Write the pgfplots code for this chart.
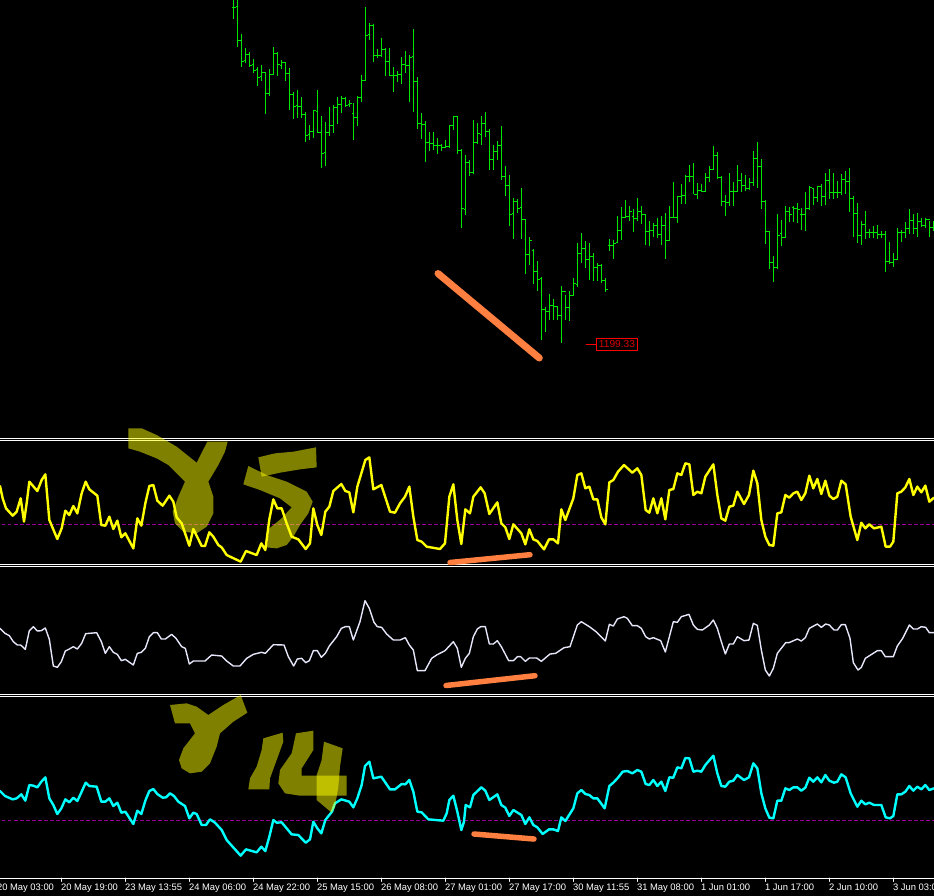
\documentclass[border=0pt]{standalone}
\usepackage{fontspec}
\setmainfont{Liberation Sans}
\usepackage{pgfplots}
\usepackage{pgfplotstable}
\pgfplotsset{compat=1.18}

\definecolor{pricegreen}{HTML}{00E600}
\definecolor{zero}{HTML}{990099}
\definecolor{pen}{HTML}{FF7F40}
\definecolor{rsiy}{HTML}{FFFF00}
\definecolor{rsiw}{HTML}{E6E6FA}
\definecolor{rsic}{HTML}{00FFFF}

% values are read from 3x crops, so px = offset + value/3
\pgfplotsset{crop/.style 2 args={x filter/.expression={#1+x/3}, y filter/.expression={#2+y/3}}}

\pgfplotstableread{
x hi lo o c
40 0 56 22 22
52 -3 140 18 121
64 102 200 121 184
76 145 188 181 164
88 156 200 164 196
100 178 220 193 211
112 201 257 208 232
124 195 243 229 216
136 216 341 216 280
148 207 287 280 223
160 141 223 223 160
172 156 227 160 193
184 180 206 195 187
196 186 242 187 220
208 204 330 220 283
220 276 356 282 319
232 270 353 317 319
244 291 353 319 343
256 337 425 343 406
268 375 419 403 394
280 330 413 394 331
292 270 400 333 398
304 348 503 398 460
316 366 497 458 396
328 321 407 396 376
340 315 399 376 323
352 291 371 323 313
364 288 338 313 296
376 292 321 295 315
388 300 322 314 310
400 309 419 340 352
412 288 377 352 292
424 225 305 292 241
436 21 241 241 105
448 69 119 103 75
460 72 185 75 166
472 147 174 166 167
484 113 170 167 149
496 144 228 148 184
508 144 228 184 226
520 201 275 226 226
532 213 246 226 222
544 171 251 222 193
556 153 219 193 197
568 165 305 197 171
580 87 335 169 244
592 231 386 244 371
604 339 416 371 373
616 363 485 373 428
628 396 453 428 431
640 396 449 431 436
652 414 461 436 437
664 432 453 436 442
676 420 443 442 438
688 375 443 438 377
700 349 389 377 350
712 348 461 350 451
724 447 683 451 626
736 465 644 628 487
748 480 527 487 518
760 360 521 516 427
772 369 431 427 400
784 348 434 402 370
796 336 410 370 393
808 387 509 393 478
820 434 509 478 454
832 423 479 454 436
844 378 539 436 529
856 498 587 529 555
868 525 677 555 643
880 594 716 641 604
892 597 638 604 625
}\barsleft

\pgfplotstableread{
x hi lo o c
64 175 327 232 267
76 268 431 267 372
88 322 404 372 332
100 357 461 360 424
112 393 482 424 449
124 441 629 445 539
136 530 605 539 545
148 492 570 545 526
160 507 569 527 529
172 528 569 529 556
184 468 638 556 485
196 495 570 485 531
208 484 572 531 495
220 445 497 495 460
232 339 472 462 370
244 309 400 370 354
256 333 414 354 389
268 339 450 389 380
280 369 453 380 412
292 399 453 412 407
304 402 460 407 452
316 444 486 452 478
328 327 362 347 347
340 330 387 347 339
352 258 337 337 302
364 231 329 302 262
376 210 260 262 258
388 228 272 258 245
400 237 306 258 264
412 204 274 264 243
424 229 283 243 253
436 252 345 253 304
448 274 347 304 301
460 280 322 301 286
472 265 324 286 313
484 259 344 313 286
496 248 386 286 332
508 228 333 332 262
520 156 264 262 262
532 199 278 262 199
544 163 223 199 197
556 134 223 197 139
568 106 157 139 139
580 99 192 139 193
592 160 207 193 181
604 162 185 181 183
616 129 185 183 141
628 109 155 141 118
640 48 120 118 77
652 67 147 77 143
664 137 228 143 213
676 195 257 213 216
688 129 228 216 185
700 157 228 185 184
712 106 184 184 150
724 130 186 150 167
736 136 184 167 176
748 144 181 176 157
760 64 169 157 85
772 37 174 85 110
784 88 236 110 213
796 209 342 213 305
808 304 417 305 397
820 378 455 397 412
832 252 417 412 315
844 270 348 311 321
856 228 322 321 243
868 232 276 243 252
880 228 276 231 234
892 218 280 236 237
904 234 300 252 252
916 186 302 252 234
928 169 240 234 173
940 175 226 174 201
952 167 216 201 170
964 162 228 170 200
976 129 225 200 152
988 117 206 152 186
1000 129 206 186 187
1012 153 205 186 186
1024 132 195 186 147
1036 122 193 147 153
1048 113 245 153 204
1060 198 320 204 249
1072 220 340 249 316
1084 272 344 316 282
1096 243 326 282 308
1108 296 325 308 308
1120 287 325 308 306
1132 285 327 308 313
1144 303 323 313 313
1156 304 425 313 393
1168 337 403 393 396
1180 369 410 396 388
1192 295 388 388 307
1204 300 335 307 308
1216 277 325 308 296
1228 237 311 296 272
1240 253 312 272 296
1252 248 321 296 273
1264 265 291 273 287
1276 263 295 287 267
1288 272 320 267 293
1300 273 304 293 293
}\barsright

% each row gives one bar: high-low stem, open tick left, close tick right
\newcommand\pricebars[3]{%
  \gdef\barpath{}%
  \pgfplotstablegetrowsof{#1}%
  \pgfmathtruncatemacro\lastrow{\pgfplotsretval-1}%
  \foreach \i in {0,...,\lastrow}{%
    \pgfplotstablegetelem{\i}{x}\of{#1}\pgfmathsetmacro\bx{#2+\pgfplotsretval/3}%
    \pgfplotstablegetelem{\i}{hi}\of{#1}\pgfmathsetmacro\bh{#3+\pgfplotsretval/3}%
    \pgfplotstablegetelem{\i}{lo}\of{#1}\pgfmathsetmacro\bl{#3+\pgfplotsretval/3}%
    \pgfplotstablegetelem{\i}{o}\of{#1}\pgfmathsetmacro\bo{#3+\pgfplotsretval/3}%
    \pgfplotstablegetelem{\i}{c}\of{#1}\pgfmathsetmacro\bc{#3+\pgfplotsretval/3}%
    \pgfmathsetmacro\bxl{\bx-2}\pgfmathsetmacro\bxr{\bx+2}%
    \xdef\barpath{\barpath (\bx,\bh)(\bx,\bl)(nan,nan)(\bxl,\bo)(\bx,\bo)(nan,nan)(\bx,\bc)(\bxr,\bc)(nan,nan)}%
  }%
  \edef\drawbars{\noexpand\addplot[pricegreen, line width=1pt, line cap=butt, unbounded coords=jump, no markers] coordinates {\barpath};}%
  \drawbars
}

\begin{document}
\begin{tikzpicture}
\fill[black] (-5pt,-25pt) rectangle (960pt,885pt);
\begin{axis}[
    scale only axis,
    width=954pt, height=878pt,
    xmin=-10, xmax=944,
    ymin=0, ymax=878,
    y dir=reverse,
    axis y line=none,
    axis x line*=bottom,
    x axis line style={draw=white, line width=0.8pt},
    xtick={-2.67,61.33,125.33,189.33,253.33,317.33,381.33,445.33,509.33,573.33,637.33,701.33,765.33,829.33,893.33},
    xticklabels={20 May 03:00,20 May 19:00,23 May 13:55,24 May 06:00,24 May 22:00,25 May 15:00,26 May 08:00,27 May 01:00,27 May 17:00,30 May 11:55,31 May 08:00,1 Jun 01:00,1 Jun 17:00,2 Jun 10:00,3 Jun 03:00},
    xticklabel style={text=white, font=\fontsize{9.4}{10}\selectfont, anchor=north west, xshift=-1.5pt, yshift=-1.5pt, inner sep=1pt},
    tick style={draw=white, line width=0.8pt},
    major tick length=3.5pt,
    tick align=outside,
    ytick=\empty,
    line cap=round,
    line join=round,
]
% price panel
\pricebars{\barsleft}{220.17}{0}
\pricebars{\barsright}{500.17}{130}
\addplot[red, line width=1pt] coordinates {(586,344.3)(596,344.3)};
\node[draw=red, line width=1pt, text=red!85!black, inner sep=0pt, minimum width=41pt, minimum height=12pt,
      font=\fontsize{10.2}{11}\selectfont] at (axis cs:617,344.3) {1199.33};

% separators
\addplot[white, line width=1pt, line cap=butt] coordinates {(-10,438.3)(944,438.3)};
\addplot[white, line width=1pt, line cap=butt] coordinates {(-10,440.3)(944,440.3)};
\addplot[white, line width=1pt, line cap=butt] coordinates {(-10,564.3)(944,564.3)};
\addplot[white, line width=1pt, line cap=butt] coordinates {(-10,566.3)(944,566.3)};
\addplot[white, line width=1pt, line cap=butt] coordinates {(-10,694.7)(944,694.7)};
\addplot[white, line width=1pt, line cap=butt] coordinates {(-10,696.7)(944,696.7)};

% level 50
\addplot[zero, line width=1pt, line cap=butt, dash pattern=on 3.5pt off 2.5pt] coordinates {(-10,524.3)(944,524.3)};
\addplot[zero, line width=1pt, line cap=butt, dash pattern=on 3.5pt off 2.5pt] coordinates {(-10,820.3)(944,820.3)};

% yellow
\addplot[rsiy, line width=2.4pt, crop={0}{430}] coordinates {
(0,168)(8,205)(18,235)(38,257)(50,245)(62,205)(72,275)(80,220)(88,155)(112,183)(125,150)(136,133)(148,270)(172,327)(185,295)(196,242)(208,255)(220,228)(232,250)(245,190)(257,155)(268,178)(292,197)(304,285)(316,287)(328,260)(340,297)(352,272)(364,322)(376,310)(400,355)(412,265)(424,287)(436,220)(448,168)(460,165)(472,212)(488,227)(508,197)(520,215)(530,262)(545,280)(568,347)(580,297)(605,348)(615,348)(628,307)(640,320)(655,345)(665,352)(680,375)(722,395)(738,363)(770,375)(784,340)(796,360)(808,268)(820,208)(832,235)(845,235)(860,280)(875,320)(895,328)(917,357)(930,340)(940,235)(952,285)(964,315)(976,245)(988,230)(1000,183)(1024,162)(1036,183)(1048,187)(1060,247)(1072,170)(1096,90)(1108,82)(1120,178)(1144,165)(1170,245)(1185,248)(1200,220)(1215,200)(1228,170)(1240,260)(1252,330)(1265,335)(1280,350)(1320,357)(1335,340)(1348,200)(1360,163)(1372,270)(1384,342)(1396,238)(1410,250)};
\addplot[rsiy, line width=2.4pt, crop={464}{430}] coordinates {
(18,250)(28,200)(50,172)(62,190)(76,252)(100,217)(112,280)(124,292)(136,327)(148,283)(172,310)(184,343)(196,298)(208,328)(220,333)(240,358)(255,328)(268,328)(282,340)(292,238)(304,270)(328,205)(340,135)(352,130)(364,175)(376,170)(388,208)(400,208)(412,262)(424,283)(436,157)(448,150)(462,125)(480,105)(505,128)(520,115)(532,135)(545,240)(556,248)(568,205)(580,250)(592,205)(604,268)(616,180)(628,177)(640,130)(652,135)(664,100)(676,103)(688,195)(700,185)(712,190)(724,140)(748,103)(760,195)(772,265)(784,272)(796,230)(808,227)(820,185)(840,222)(855,195)(868,122)(880,160)(892,270)(904,320)(916,345)(928,347)(940,250)(952,247)(964,195)(976,203)(988,190)(1000,185)(1012,210)(1024,190)(1036,137)(1048,175)(1060,147)(1072,192)(1084,152)(1096,197)(1108,207)(1120,200)(1132,152)(1145,163)(1160,260)(1180,330)(1192,278)(1204,295)(1216,283)(1230,295)(1252,290)(1265,350)(1278,350)(1288,335)(1300,190)(1312,185)(1324,172)(1336,147)(1348,195)(1360,170)(1372,187)(1384,167)(1396,215)(1410,203)};

% white
\addplot[rsiw, line width=1.4pt, crop={0}{590}] coordinates {
(0,115)(15,130)(28,137)(40,155)(52,165)(62,165)(76,178)(88,122)(100,110)(112,123)(124,122)(136,114)(148,148)(160,228)(172,232)(184,215)(196,183)(208,177)(220,170)(232,177)(245,160)(257,131)(290,128)(304,155)(316,190)(328,170)(340,187)(352,193)(364,212)(376,208)(400,225)(412,190)(424,187)(436,175)(448,140)(460,128)(472,128)(484,147)(496,147)(515,133)(528,145)(545,170)(556,175)(568,222)(580,213)(615,213)(635,195)(665,198)(680,213)(700,228)(720,228)(740,205)(760,193)(784,187)(796,190)(820,164)(852,165)(865,200)(881,228)(892,207)(905,205)(917,218)(928,212)(940,182)(952,182)(964,202)(976,190)(988,168)(1010,140)(1024,115)(1036,110)(1048,110)(1060,150)(1080,95)(1095,32)(1108,55)(1122,97)(1132,110)(1145,112)(1160,132)(1180,150)(1200,150)(1216,143)(1228,165)(1240,180)(1252,242)(1275,242)(1295,205)(1310,195)(1335,182)(1360,155)(1372,175)(1384,232)(1396,205)(1408,190)};
\addplot[rsiw, line width=1.4pt, crop={464}{590}] coordinates {
(16,190)(28,140)(40,117)(50,110)(64,110)(76,162)(88,162)(100,152)(112,170)(134,212)(148,212)(160,200)(170,200)(184,214)(196,204)(218,204)(232,214)(258,192)(275,190)(300,173)(318,170)(340,105)(352,95)(376,110)(396,125)(424,153)(436,103)(448,108)(460,87)(480,80)(490,85)(505,107)(520,107)(532,115)(545,140)(556,147)(568,143)(590,152)(604,186)(628,95)(640,97)(652,80)(675,73)(688,105)(700,118)(715,120)(736,105)(748,90)(760,115)(772,155)(784,192)(796,162)(808,162)(820,140)(840,152)(855,150)(868,100)(880,106)(892,180)(904,240)(916,258)(928,235)(940,190)(965,158)(975,158)(1000,147)(1012,153)(1024,143)(1036,115)(1060,102)(1072,112)(1085,102)(1096,105)(1110,120)(1120,120)(1132,104)(1144,104)(1158,145)(1168,218)(1182,240)(1192,232)(1204,205)(1240,182)(1252,182)(1264,200)(1288,200)(1300,168)(1316,145)(1336,105)(1348,117)(1360,117)(1372,110)(1385,112)(1396,128)(1410,128)};

% cyan
\addplot[rsic, line width=2.4pt, crop={0}{690}] coordinates {
(0,303)(15,318)(38,328)(50,325)(64,313)(76,332)(88,285)(100,287)(112,292)(124,275)(136,262)(148,325)(160,345)(172,372)(184,355)(196,328)(208,337)(220,323)(232,333)(245,305)(257,278)(268,288)(290,290)(304,335)(316,335)(328,325)(340,348)(352,338)(364,368)(376,365)(400,402)(412,362)(424,372)(436,332)(448,303)(460,297)(472,312)(488,323)(498,322)(510,310)(522,318)(535,335)(555,348)(568,385)(580,368)(590,372)(605,405)(618,405)(630,388)(645,398)(665,420)(680,450)(722,497)(738,478)(770,487)(784,470)(796,483)(808,440)(820,390)(830,398)(845,397)(860,415)(875,433)(895,435)(917,458)(930,448)(940,395)(952,415)(964,430)(976,390)(996,365)(1005,340)(1024,328)(1048,335)(1060,352)(1072,325)(1085,285)(1095,228)(1108,215)(1120,265)(1144,260)(1170,298)(1185,298)(1205,282)(1216,283)(1228,270)(1240,305)(1252,365)(1265,367)(1285,388)(1330,392)(1340,370)(1348,330)(1360,317)(1372,365)(1384,420)(1392,395)};
\addplot[rsic, line width=2.4pt, crop={464}{690}] coordinates {
(0,395)(5,345)(18,352)(28,315)(52,292)(64,302)(76,330)(100,313)(112,345)(124,353)(136,378)(148,360)(172,375)(184,402)(196,382)(208,405)(220,412)(236,432)(255,418)(268,418)(282,423)(292,382)(304,393)(328,355)(340,310)(352,300)(364,312)(376,315)(388,325)(400,325)(422,355)(436,288)(448,278)(462,263)(476,245)(490,243)(505,250)(520,240)(532,245)(545,282)(556,285)(568,270)(580,288)(592,275)(604,303)(616,262)(628,263)(640,232)(652,235)(664,204)(676,205)(688,245)(700,242)(712,245)(724,225)(748,197)(760,250)(772,288)(784,290)(796,275)(808,272)(820,255)(840,270)(855,262)(868,220)(880,235)(892,310)(904,355)(916,383)(928,385)(940,332)(952,332)(964,295)(976,300)(988,292)(1000,292)(1012,302)(1024,293)(1036,263)(1048,275)(1060,262)(1072,277)(1084,255)(1096,272)(1110,278)(1120,275)(1132,253)(1145,262)(1160,310)(1180,350)(1192,332)(1204,343)(1216,338)(1230,345)(1252,345)(1265,382)(1278,385)(1288,378)(1300,313)(1312,313)(1324,305)(1336,288)(1348,302)(1360,290)(1372,298)(1384,285)(1396,300)(1410,295)};

% pen strokes
\addplot[pen, line width=7pt] coordinates {(438,273.5)(539.3,358)};
\addplot[pen, line width=5.5pt] coordinates {(450,562.5)(530,554.7)};
\addplot[pen, line width=5.5pt] coordinates {(446,685.5)(535,675.7)};
\addplot[pen, line width=5.5pt] coordinates {(474,834)(534,839)};

% hand written marks on top of everything
\addplot[fill=rsiy, fill opacity=0.5, draw=none, crop={0}{430}] coordinates {
(385,-5)(425,-5)(470,15)(530,50)(590,98)(622,35)(683,35)(675,65)(655,105)(625,155)(640,200)(640,250)(620,290)(590,310)(550,305)(525,280)(518,245)(535,200)(555,155)(505,105)(470,85)(420,65)(385,55)} --cycle;
\addplot[fill=rsiy, fill opacity=0.5, draw=none, crop={0}{430}] coordinates {
(775,82)(825,70)(880,65)(948,52)(950,112)(900,118)(840,128)(785,140)} --cycle;
\addplot[fill=rsiy, fill opacity=0.5, draw=none, crop={0}{430}] coordinates {
(745,108)(800,135)(860,155)(920,185)(938,215)(925,250)(900,285)(880,320)(860,345)(830,355)(800,352)(808,295)(845,265)(875,232)(840,205)(780,180)(730,163)} --cycle;
\addplot[fill=rsiy, fill opacity=0.5, draw=none, crop={0}{690}] coordinates {
(510,45)(560,40)(590,50)(625,75)(670,45)(722,15)(742,68)(700,95)(660,130)(650,170)(630,220)(605,245)(570,250)(545,235)(537,210)(550,175)(585,130)(570,100)(525,100)} --cycle;
\addplot[fill=rsiy, fill opacity=0.5, draw=none, crop={0}{690}] coordinates {
(790,145)(848,128)(850,155)(830,210)(810,265)(808,298)(745,298)(750,265)(770,230)(785,180)} --cycle;
\addplot[fill=rsiy, fill opacity=0.5, draw=none, crop={0}{690}] coordinates {
(888,130)(940,122)(940,180)(905,235)(905,257)(1040,257)(1040,317)(900,317)(855,310)(835,280)(840,240)(875,190)} --cycle;
\addplot[fill=rsiy, fill opacity=0.5, draw=none, crop={0}{690}] coordinates {
(972,155)(1028,175)(1020,230)(1015,290)(1005,350)(995,368)(950,330)(950,255)(965,210)} --cycle;
\end{axis}
\pgfresetboundingbox
\useasboundingbox (10pt,-17pt) rectangle (944pt,878pt);
\end{tikzpicture}
\end{document}
